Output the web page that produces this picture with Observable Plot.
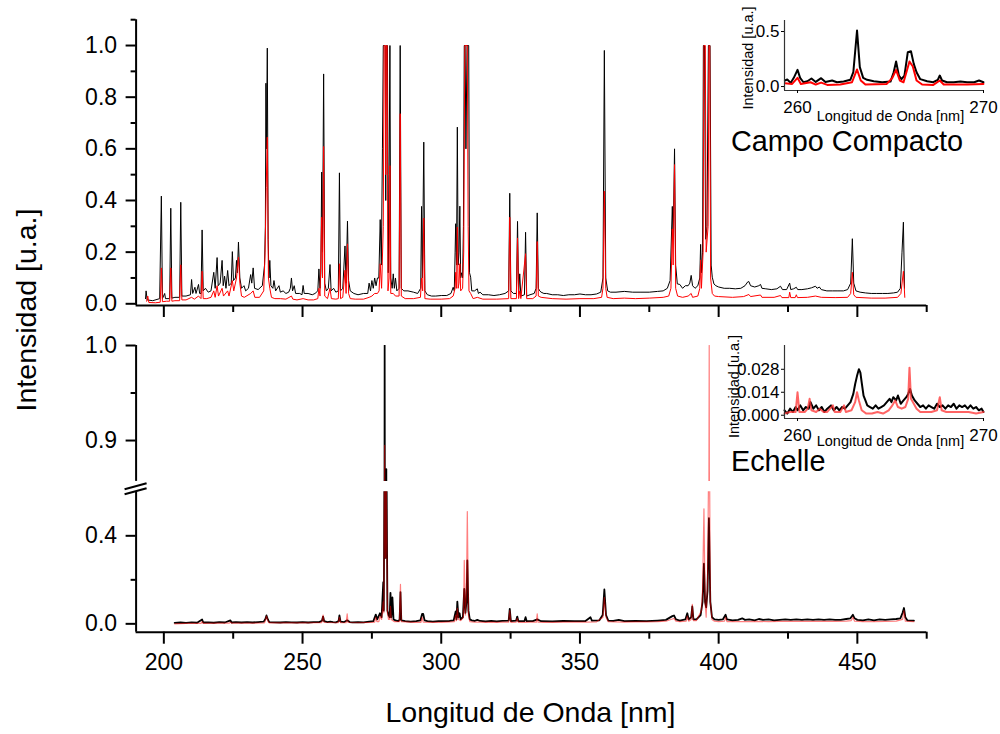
<!DOCTYPE html>
<html>
<head>
<meta charset="utf-8">
<script src="https://cdn.jsdelivr.net/npm/d3@7"></script>
<script src="https://cdn.jsdelivr.net/npm/@observablehq/plot@0.6"></script>
<style>
  html, body { margin: 0; padding: 0; background: white; }
  #root { position: relative; width: 1000px; height: 734px; background: white; overflow: hidden; font-family: "Liberation Sans", Arial, sans-serif; }
  #root svg { position: absolute; }
</style>
</head>
<body>
<div id="root"></div>
<script>
// ---------------- DATA (wavelength nm, normalized intensity) ----------------
// Campo Compacto, black spectrum
const ccBlack = [[193.4,0.02],[193.6,0.05],[194,0.015],[196,0.012],[198.5,0.02],[199.1,0.417],[199.5,0.02],[200.3,0.04],[200.6,0.02],[202.1,0.02],[202.5,0.37],[202.9,0.022],[204,0.025],[205.7,0.025],[206.1,0.393],[206.5,0.03],[208,0.03],[209.6,0.035],[210,0.094],[210.4,0.04],[211.2,0.064],[211.6,0.04],[212.5,0.075],[212.9,0.04],[213.4,0.04],[213.8,0.286],[214.2,0.05],[215,0.06],[216,0.045],[217,0.05],[218,0.122],[218.5,0.06],[219.2,0.179],[219.6,0.07],[220.3,0.08],[221,0.168],[221.4,0.07],[221.9,0.107],[222.4,0.06],[223,0.129],[223.5,0.07],[224.3,0.08],[224.7,0.202],[225.1,0.09],[225.8,0.1],[226.2,0.168],[226.5,0.12],[226.9,0.239],[227.4,0.1],[228,0.06],[228.9,0.07],[229.5,0.05],[230.5,0.06],[231.3,0.113],[231.7,0.08],[232.2,0.139],[232.7,0.06],[234,0.055],[235.5,0.07],[236.3,0.15],[236.6,0.3],[236.8,0.854],[237.0,0.6],[237.3,0.99],[237.6,0.25],[237.9,0.1],[238.2,0.168],[238.6,0.07],[239.3,0.06],[239.7,0.09],[240.3,0.05],[241.5,0.07],[242,0.045],[243,0.05],[244,0.04],[245,0.045],[245.6,0.06],[246,0.1],[246.4,0.05],[247,0.07],[247.5,0.04],[249,0.04],[249.8,0.035],[250.2,0.071],[250.6,0.04],[252,0.04],[253.5,0.035],[254.5,0.04],[255.5,0.05],[255.9,0.135],[256.3,0.06],[256.6,0.12],[256.9,0.51],[257.2,0.2],[257.6,0.89],[258,0.08],[258.6,0.05],[259.3,0.06],[259.9,0.152],[260.3,0.05],[261.2,0.06],[262,0.045],[262.9,0.05],[263.3,0.507],[263.7,0.05],[264.5,0.06],[265.3,0.224],[265.7,0.08],[266.2,0.32],[266.6,0.09],[267.2,0.05],[268.5,0.04],[270,0.035],[272,0.04],[273.5,0.04],[274,0.08],[274.5,0.05],[275,0.09],[275.5,0.06],[276,0.1],[276.5,0.07],[277,0.1],[277.5,0.1],[278,0.326],[278.4,0.15],[278.8,0.6],[279.1,1.0],[279.8,1.0],[280.0,0.4],[280.2,1.0],[280.6,1.0],[280.9,0.12],[281.2,0.5],[281.5,1.0],[281.8,0.1],[282.3,0.06],[282.7,0.116],[283.1,0.06],[283.5,0.1],[284,0.05],[284.8,0.06],[285.2,1.0],[285.6,0.06],[286.5,0.05],[288,0.05],[290,0.045],[291.5,0.04],[292.6,0.06],[292.9,0.377],[293.2,0.1],[293.7,0.626],[294.1,0.05],[295,0.035],[296.5,0.03],[298,0.03],[300,0.032],[302,0.032],[303.5,0.04],[304.3,0.064],[304.7,0.05],[305.0,0.2],[305.2,0.31],[305.5,0.15],[305.8,0.684],[306.1,0.15],[306.4,0.2],[306.7,0.378],[307.0,0.1],[307.3,0.12],[307.7,0.1],[308.0,0.3],[308.3,1.0],[308.6,1.0],[308.9,0.6],[309.3,1.0],[309.9,1.0],[310.2,0.12],[310.6,0.103],[311,0.05],[312,0.05],[313,0.058],[313.4,0.04],[314,0.045],[315,0.035],[317,0.035],[319,0.032],[321,0.035],[323,0.04],[324.3,0.05],[324.7,0.428],[325.1,0.05],[326,0.04],[327.1,0.04],[327.5,0.319],[327.9,0.04],[328.3,0.116],[328.7,0.03],[330,0.035],[330.4,0.277],[330.8,0.03],[332,0.035],[333.5,0.04],[334.2,0.06],[334.6,0.352],[335,0.06],[335.5,0.05],[336,0.045],[337,0.04],[338,0.04],[340,0.035],[342,0.035],[344,0.032],[346,0.035],[348,0.035],[350,0.038],[352,0.035],[354,0.035],[356,0.038],[357.5,0.045],[358.3,0.1],[358.8,0.981],[359.3,0.1],[360,0.05],[361,0.045],[363,0.045],[366,0.048],[369,0.045],[372,0.045],[375,0.045],[378,0.048],[380,0.05],[381.5,0.06],[382.5,0.09],[383.3,0.377],[383.6,0.25],[384.1,0.6],[384.5,0.15],[385.1,0.077],[386,0.075],[387,0.06],[388,0.07],[389,0.07],[389.6,0.08],[390.1,0.11],[390.6,0.07],[391.5,0.06],[392.5,0.07],[393.2,0.1],[393.5,0.23],[393.8,0.12],[394.2,0.2],[394.5,1.0],[394.9,1.0],[395.3,0.25],[395.8,0.3],[396.3,1.0],[396.9,1.0],[397.3,0.15],[397.7,0.103],[398.3,0.077],[399,0.07],[400,0.065],[402,0.06],[404,0.06],[406,0.058],[408,0.06],[409.5,0.07],[410.5,0.085],[410.9,0.086],[411.5,0.07],[413,0.065],[414.5,0.07],[415.1,0.075],[415.6,0.06],[417,0.058],[419,0.055],[421,0.058],[422.3,0.068],[423,0.055],[424.5,0.055],[425.6,0.08],[426,0.055],[427,0.058],[428,0.064],[428.5,0.055],[430,0.055],[432,0.058],[433.5,0.062],[434.9,0.068],[435.5,0.06],[436.3,0.065],[437,0.055],[439,0.05],[441,0.05],[443,0.05],[445,0.05],[446.5,0.055],[447.6,0.08],[448.2,0.252],[448.7,0.08],[449.5,0.05],[451,0.045],[453,0.042],[455,0.04],[457,0.04],[459,0.04],[461,0.04],[463,0.042],[464.5,0.045],[465.5,0.06],[466.1,0.2],[466.6,0.316],[467,0.06]];

// Campo Compacto, red spectrum
const ccRed = [[193.8,0.01],[194.2,0.03],[194.6,0.005],[197,0.004],[198.7,0.006],[199.1,0.139],[199.5,0.008],[201,0.01],[202.1,0.01],[202.5,0.139],[202.9,0.01],[204,0.012],[205.7,0.012],[206.1,0.151],[206.5,0.015],[208,0.015],[210,0.025],[211,0.018],[212.5,0.03],[213.4,0.02],[213.8,0.126],[214.2,0.02],[215.5,0.02],[217,0.025],[218,0.05],[218.5,0.025],[219.2,0.07],[219.7,0.03],[221,0.06],[221.5,0.03],[223,0.05],[223.5,0.03],[224.7,0.09],[225.2,0.05],[226.2,0.1],[226.9,0.181],[227.4,0.08],[228,0.03],[229,0.025],[231.3,0.04],[232.2,0.05],[232.8,0.025],[234.5,0.025],[236,0.05],[236.5,0.2],[236.9,0.45],[237.3,0.645],[237.7,0.1],[238.2,0.06],[238.8,0.025],[240,0.02],[242,0.02],[244,0.018],[246,0.03],[246.5,0.018],[248,0.015],[250.2,0.02],[252,0.015],[254,0.015],[255.5,0.02],[255.9,0.06],[256.3,0.03],[256.9,0.335],[257.2,0.1],[257.6,0.609],[258,0.03],[259,0.02],[259.9,0.06],[260.4,0.02],[262,0.018],[262.9,0.02],[263.3,0.155],[263.7,0.02],[264.5,0.025],[265.3,0.13],[265.7,0.04],[266.2,0.232],[266.6,0.04],[267.2,0.02],[269,0.018],[272,0.018],[274,0.025],[275,0.03],[276,0.04],[277,0.04],[277.6,0.05],[278,0.155],[278.5,0.06],[279.1,0.3],[279.4,1.0],[279.8,1.0],[280.0,0.5],[280.2,1.0],[280.5,1.0],[280.8,0.05],[281.2,0.1],[281.5,0.535],[281.8,0.04],[282.7,0.04],[283.5,0.03],[284.8,0.03],[285.2,0.736],[285.6,0.03],[287,0.02],[290,0.02],[292.5,0.025],[292.9,0.1],[293.3,0.05],[293.7,0.332],[294.1,0.02],[296,0.018],[300,0.018],[303,0.02],[304.3,0.03],[305.0,0.06],[305.2,0.122],[305.5,0.06],[305.8,0.297],[306.1,0.06],[306.4,0.08],[306.7,0.155],[307,0.05],[307.7,0.06],[308.1,0.2],[308.5,1.0],[309.4,1.0],[309.7,0.3],[310,0.05],[310.6,0.04],[311.5,0.02],[313,0.025],[315,0.018],[320,0.018],[324.3,0.02],[324.7,0.335],[325.1,0.02],[327.1,0.02],[327.5,0.255],[327.9,0.02],[328.3,0.05],[328.7,0.02],[330.4,0.194],[330.8,0.02],[333,0.02],[334.2,0.03],[334.6,0.241],[335,0.03],[336,0.025],[340,0.02],[345,0.018],[350,0.02],[355,0.02],[357.8,0.025],[358.3,0.06],[358.8,0.436],[359.3,0.06],[359.8,0.025],[362,0.02],[366,0.022],[370,0.02],[375,0.022],[380,0.025],[382,0.03],[382.8,0.06],[383.3,0.29],[383.6,0.15],[384.1,0.539],[384.5,0.06],[385.2,0.03],[387,0.025],[389,0.03],[390.1,0.04],[390.6,0.025],[392.5,0.03],[393.2,0.06],[393.5,0.17],[393.8,0.06],[394.4,0.2],[394.7,1.0],[395.2,1.0],[395.5,0.2],[396.2,0.3],[396.5,1.0],[396.8,1.0],[397.1,0.1],[397.7,0.04],[398.5,0.03],[400,0.028],[405,0.025],[409,0.028],[410.9,0.036],[411.5,0.028],[415.1,0.034],[415.6,0.025],[420,0.025],[422.3,0.032],[422.8,0.024],[425.3,0.024],[425.6,0.045],[426,0.024],[427.6,0.024],[428,0.035],[428.4,0.024],[432,0.025],[434.9,0.03],[437,0.025],[442,0.024],[446.5,0.025],[447.6,0.04],[448.2,0.122],[448.7,0.035],[449.5,0.025],[455,0.022],[460,0.022],[464.5,0.025],[465.7,0.04],[466.6,0.126],[467.1,0.025]];

// Echelle, black spectrum
const ecBlack = [[203.9,0.004],[206,0.006],[208,0.004],[210,0.007],[212,0.005],[213.8,0.02],[214.2,0.006],[216,0.007],[218,0.005],[220,0.008],[222,0.006],[224,0.016],[224.4,0.006],[226,0.008],[228,0.006],[230,0.008],[232,0.006],[234,0.008],[236,0.01],[236.6,0.022],[237,0.038],[237.5,0.02],[238,0.008],[240,0.007],[242,0.006],[244,0.008],[246,0.007],[248,0.006],[250,0.008],[252,0.006],[254,0.008],[256,0.008],[257,0.014],[257.4,0.033],[257.8,0.012],[259,0.008],[260,0.01],[261,0.008],[262,0.007],[263,0.012],[263.3,0.038],[263.7,0.01],[265,0.008],[266.1,0.016],[267,0.008],[268,0.007],[270,0.008],[272,0.007],[274,0.01],[275.5,0.012],[276.4,0.042],[276.9,0.02],[277.9,0.048],[278.5,0.03],[279.1,0.189],[279.3,0.06],[279.6,1.0],[279.9,0.3],[280.2,0.87],[280.6,0.06],[281,0.04],[281.4,0.03],[281.7,0.141],[282,0.03],[282.4,0.12],[282.8,0.02],[283.5,0.016],[284.5,0.012],[285.0,0.02],[285.3,0.144],[285.6,0.016],[287,0.012],[289,0.01],[291,0.012],[292.5,0.016],[293.1,0.045],[293.5,0.045],[294,0.016],[295,0.012],[297,0.01],[299,0.012],[301,0.012],[303,0.013],[304.5,0.016],[305.2,0.056],[305.5,0.02],[305.8,0.101],[306.2,0.03],[306.6,0.048],[307,0.02],[307.8,0.03],[308.3,0.159],[308.7,0.05],[309.1,0.1],[309.4,0.288],[309.8,0.06],[310.3,0.02],[311,0.016],[312,0.013],[313,0.018],[314,0.013],[316,0.011],[318,0.013],[320,0.011],[322,0.013],[324.3,0.015],[324.7,0.068],[325.1,0.012],[327,0.015],[327.4,0.033],[327.8,0.012],[330,0.013],[330.4,0.03],[330.8,0.012],[333,0.012],[334.6,0.02],[336,0.012],[340,0.011],[344,0.013],[348,0.012],[352,0.013],[353.8,0.03],[354.3,0.015],[357,0.016],[358.2,0.04],[358.8,0.156],[359.4,0.04],[360.2,0.015],[362,0.013],[364,0.018],[366,0.012],[370,0.013],[374,0.012],[378,0.015],[381,0.018],[383.3,0.035],[383.9,0.038],[384.6,0.02],[386,0.015],[388,0.02],[388.7,0.048],[389.2,0.02],[390.1,0.03],[390.5,0.079],[390.9,0.02],[392,0.02],[393.5,0.04],[394.2,0.1],[394.7,0.273],[395.1,0.1],[395.5,0.075],[396,0.15],[396.5,0.48],[397,0.1],[397.6,0.03],[398.5,0.02],[400,0.018],[401.5,0.02],[402.5,0.041],[403,0.02],[405,0.016],[407,0.018],[408.5,0.025],[409.5,0.018],[411,0.02],[413,0.016],[414.5,0.022],[416,0.018],[418,0.02],[420,0.016],[422,0.018],[424,0.02],[426,0.018],[428,0.02],[430,0.018],[432,0.02],[434,0.018],[436,0.02],[438,0.018],[440,0.02],[442,0.018],[444,0.018],[446,0.022],[447.5,0.025],[448.4,0.041],[449,0.025],[450,0.018],[452,0.016],[454,0.02],[456,0.016],[458,0.02],[460,0.018],[462,0.02],[464,0.022],[465.5,0.025],[466.3,0.05],[466.8,0.072],[467.3,0.03],[468,0.016],[470.4,0.015]];

// Echelle, red spectrum
const ecRed = [[203.9,0.0],[208,0.002],[213.4,0.002],[213.8,0.01],[214.2,0.002],[220,0.003],[223.6,0.003],[224,0.008],[224.4,0.003],[230,0.003],[236.2,0.004],[236.5,0.01],[237,0.035],[237.6,0.01],[238,0.004],[245,0.004],[250,0.004],[256.8,0.005],[257,0.01],[257.4,0.04],[257.8,0.006],[262,0.005],[262.9,0.005],[263.3,0.03],[263.7,0.005],[265.7,0.005],[266.1,0.045],[266.4,0.006],[270,0.005],[275,0.007],[276,0.008],[276.4,0.03],[276.8,0.01],[277.5,0.01],[277.9,0.035],[278.5,0.02],[279.1,0.1],[279.3,0.05],[279.6,0.895],[279.9,0.3],[280.2,0.65],[280.6,0.05],[281,0.02],[281.4,0.02],[281.7,0.08],[282,0.02],[283,0.01],[284.9,0.01],[285.3,0.179],[285.6,0.01],[290,0.007],[292.7,0.007],[293.1,0.03],[293.5,0.008],[296,0.007],[300,0.007],[304.8,0.01],[305.2,0.04],[305.5,0.015],[305.8,0.07],[306.2,0.02],[307,0.015],[308,0.03],[308.3,0.288],[308.7,0.04],[309.1,0.15],[309.4,0.51],[309.8,0.04],[310.3,0.01],[312,0.008],[314,0.008],[316,0.007],[318,0.008],[320,0.007],[322,0.008],[324.3,0.008],[324.7,0.06],[325.1,0.007],[327,0.008],[327.4,0.025],[327.8,0.007],[330,0.007],[332,0.008],[334.3,0.008],[334.6,0.045],[334.9,0.008],[337,0.007],[340,0.007],[344,0.008],[348,0.008],[352,0.008],[356,0.009],[358.3,0.03],[358.8,0.12],[359.4,0.03],[360.2,0.01],[363,0.009],[366,0.008],[370,0.009],[374,0.009],[378,0.01],[381,0.012],[383.3,0.022],[383.9,0.025],[384.6,0.012],[386,0.01],[388.3,0.012],[388.7,0.035],[389.2,0.012],[390.1,0.02],[390.5,0.088],[390.9,0.015],[392,0.015],[393.8,0.06],[394.2,0.15],[394.7,0.523],[395.1,0.1],[395.5,0.03],[396,0.2],[396.6,1.0],[397,0.1],[397.6,0.02],[398.5,0.012],[400,0.01],[402.1,0.012],[402.5,0.03],[403,0.01],[406,0.01],[410,0.01],[414,0.011],[418,0.01],[422,0.011],[426,0.011],[430,0.011],[434,0.011],[438,0.011],[442,0.011],[446,0.012],[447.8,0.015],[448.4,0.03],[449,0.012],[452,0.01],[456,0.01],[460,0.011],[464,0.012],[466.3,0.02],[466.8,0.06],[467.3,0.012],[470.4,0.01]];

// Inset (Campo Compacto) 259-270 nm
const insetCcBlack = [[259.32,0.055],[259.45,0.064],[259.63,0.033],[259.8,0.079],[260.0,0.152],[260.14,0.079],[260.32,0.039],[260.53,0.048],[260.75,0.073],[260.98,0.042],[261.27,0.076],[261.5,0.042],[261.86,0.055],[262.12,0.039],[262.48,0.045],[262.84,0.061],[263.0,0.13],[263.2,0.509],[263.35,0.176],[263.53,0.079],[263.74,0.061],[264.1,0.048],[264.55,0.039],[265.0,0.045],[265.17,0.13],[265.3,0.227],[265.45,0.1],[265.59,0.067],[265.75,0.1],[265.93,0.312],[266.1,0.321],[266.25,0.206],[266.4,0.13],[266.6,0.067],[266.97,0.048],[267.3,0.039],[267.54,0.061],[267.65,0.1],[267.77,0.055],[268.04,0.039],[268.4,0.039],[268.76,0.045],[269.12,0.039],[269.5,0.039],[269.76,0.055],[270.0,0.039]];
const insetCcRed = [[259.32,0.03],[259.71,0.024],[260.0,0.079],[260.18,0.024],[260.7,0.039],[260.98,0.018],[261.27,0.036],[261.6,0.015],[262.3,0.018],[262.93,0.039],[263.2,0.155],[263.4,0.055],[263.65,0.018],[264.8,0.024],[265.1,0.079],[265.3,0.152],[265.5,0.055],[265.7,0.039],[266.02,0.227],[266.2,0.182],[266.4,0.055],[266.7,0.018],[267.3,0.015],[267.65,0.055],[267.86,0.018],[269.12,0.018],[270.0,0.024]];

// Inset (Echelle) 259-270 nm
const insetEcBlack = [[259.3,0.003],[259.45,0.001],[259.6,0.004],[259.75,0.002],[259.9,0.005],[260.0,0.003],[260.15,0.006],[260.3,0.003],[260.45,0.005],[260.6,0.004],[260.7,0.008],[260.85,0.004],[261.0,0.006],[261.15,0.003],[261.3,0.005],[261.45,0.002],[261.6,0.004],[261.8,0.006],[261.95,0.003],[262.1,0.005],[262.25,0.003],[262.4,0.005],[262.55,0.004],[262.7,0.006],[262.85,0.008],[263.0,0.013],[263.1,0.019],[263.2,0.024],[263.3,0.028],[263.38,0.026],[263.45,0.02],[263.55,0.012],[263.65,0.009],[263.75,0.006],[263.9,0.005],[264.05,0.004],[264.2,0.006],[264.35,0.004],[264.5,0.005],[264.65,0.006],[264.8,0.008],[264.95,0.01],[265.05,0.008],[265.15,0.011],[265.3,0.009],[265.4,0.012],[265.55,0.007],[265.7,0.009],[265.85,0.011],[265.95,0.013],[266.05,0.016],[266.15,0.012],[266.3,0.009],[266.45,0.007],[266.6,0.005],[266.75,0.006],[266.9,0.004],[267.05,0.006],[267.2,0.005],[267.35,0.004],[267.5,0.007],[267.65,0.005],[267.8,0.006],[267.95,0.004],[268.1,0.006],[268.25,0.005],[268.4,0.007],[268.55,0.004],[268.7,0.006],[268.85,0.005],[269.0,0.006],[269.15,0.004],[269.3,0.006],[269.45,0.004],[269.6,0.005],[269.75,0.003],[269.9,0.004],[270.0,0.002]];
const insetEcRed = [[259.3,0.001],[259.6,0.002],[259.9,0.002],[260.0,0.014],[260.1,0.002],[260.4,0.002],[260.55,0.004],[260.65,0.01],[260.75,0.003],[261.0,0.002],[261.2,0.004],[261.4,0.002],[261.6,0.002],[261.9,0.006],[262.0,0.002],[262.3,0.002],[262.5,0.006],[262.6,0.002],[262.9,0.003],[263.1,0.008],[263.2,0.014],[263.3,0.009],[263.45,0.003],[263.7,0.001],[264.0,0.001],[264.3,0.002],[264.6,0.001],[264.9,0.003],[265.1,0.006],[265.25,0.009],[265.4,0.005],[265.6,0.004],[265.8,0.005],[265.95,0.01],[266.02,0.029],[266.1,0.01],[266.2,0.008],[266.4,0.004],[266.6,0.002],[266.9,0.002],[267.2,0.002],[267.5,0.003],[267.65,0.011],[267.75,0.003],[268.0,0.002],[268.4,0.002],[268.8,0.002],[269.2,0.002],[269.6,0.001],[270.0,0.002]];

// Tick values
const xMajor = [200, 250, 300, 350, 400, 450];
const xMinor = [225, 275, 325, 375, 425, 475];
const yTopMajor = [0, 0.2, 0.4, 0.6, 0.8, 1.0];
const yTopMinor = [0.1, 0.3, 0.5, 0.7, 0.9, 1.1];
const yUpMajor = [0.9, 1.0];
const yUpMinor = [0.95];
const yLowMajor = [0, 0.4];
const yLowMinor = [0.2];
const insetXTicks = [260, 270];
const insetCcYTicks = [0, 0.5];
const insetEcYTicks = [0, 0.014, 0.028];

// ---------------- RENDER ----------------
const root = document.getElementById("root");
const FONT = "'Liberation Sans', Arial, sans-serif";
const baseStyle = {background: "transparent", fontFamily: FONT, overflow: "visible"};
const X = d => d[0], Y = d => d[1];
const none = () => "";
function place(el, left, top) {
  el.style.position = "absolute";
  el.style.left = left + "px";
  el.style.top = top + "px";
  el.style.maxWidth = "none";
  root.appendChild(el);
}

const mainMargins = {width: 1000, marginLeft: 135.6, marginRight: 73.8};
const xMain = {domain: [190, 475]};

// Top panel (Campo Compacto)
place(Plot.plot({
  ...mainMargins, height: 330, marginTop: 19.2, marginBottom: 25,
  style: baseStyle,
  x: xMain, y: {domain: [-0.0066, 1.1]},
  marks: [
    Plot.line(ccBlack, {x: X, y: Y, stroke: "#000", strokeWidth: 1}),
    Plot.line(ccRed, {x: X, y: Y, stroke: "#ff0000", strokeWidth: 1}),
    Plot.ruleX([190], {strokeWidth: 2}),
    Plot.ruleY([-0.0066], {strokeWidth: 2}),
    Plot.axisY(yTopMajor, {anchor: "left", tickSize: 10, tickPadding: 9, fontSize: 23, tickFormat: d3.format(".1f"), strokeWidth: 2, label: null}),
    Plot.axisY(yTopMinor, {anchor: "left", tickSize: 5, tickFormat: none, strokeWidth: 2, label: null}),
    Plot.axisX(xMajor, {anchor: "bottom", tickSize: 12, tickFormat: none, strokeWidth: 2, label: null}),
    Plot.axisX(xMinor, {anchor: "bottom", tickSize: 7, tickFormat: none, strokeWidth: 2, label: null})
  ]
}), 0, 0);

// Bottom panel, upper segment (Echelle)
place(Plot.plot({
  ...mainMargins, height: 160, marginTop: 15, marginBottom: 9.1,
  style: baseStyle,
  x: {...xMain, axis: null}, y: {domain: [0.857, 1.0]},
  marks: [
    Plot.line(ecBlack, {x: X, y: Y, stroke: "#000", strokeWidth: 1.8, clip: true}),
    Plot.line(ecRed, {x: X, y: Y, stroke: "#ff0000", strokeOpacity: 0.5, strokeWidth: 1.2, clip: true}),
    Plot.ruleX([190], {strokeWidth: 2}),
    Plot.axisY(yUpMajor, {anchor: "left", tickSize: 10, tickPadding: 9, fontSize: 23, tickFormat: d3.format(".1f"), strokeWidth: 2, label: null}),
    Plot.axisY(yUpMinor, {anchor: "left", tickSize: 5, tickFormat: none, strokeWidth: 2, label: null})
  ]
}), 0, 330);

// Bottom panel, lower segment (Echelle)
place(Plot.plot({
  ...mainMargins, height: 254, marginTop: 11.3, marginBottom: 102.3,
  style: baseStyle,
  x: xMain, y: {domain: [-0.038, 0.6]},
  marks: [
    Plot.line(ecBlack, {x: X, y: Y, stroke: "#000", strokeWidth: 1.8, clip: true}),
    Plot.line(ecRed, {x: X, y: Y, stroke: "#ff0000", strokeOpacity: 0.5, strokeWidth: 1.2, clip: true}),
    Plot.ruleX([190], {strokeWidth: 2}),
    Plot.ruleY([-0.038], {strokeWidth: 2}),
    Plot.axisY(yLowMajor, {anchor: "left", tickSize: 10, tickPadding: 9, fontSize: 23, tickFormat: d3.format(".1f"), strokeWidth: 2, label: null}),
    Plot.axisY(yLowMinor, {anchor: "left", tickSize: 5, tickFormat: none, strokeWidth: 2, label: null}),
    Plot.axisX(xMajor, {anchor: "bottom", tickSize: 12, tickPadding: 9.3, fontSize: 23, tickFormat: d3.format("d"), strokeWidth: 2, label: null}),
    Plot.axisX(xMinor, {anchor: "bottom", tickSize: 7, tickFormat: none, strokeWidth: 2, label: null}),
    // axis break marks
    (index, scales, values, dims) => {
      const g = d3.create("svg:g");
      const L = dims.marginLeft, T = dims.marginTop;
      g.append("rect").attr("x", L - 3).attr("y", T - 9).attr("width", 6).attr("height", 8).attr("fill", "white");
      for (const dy of [0, 5]) {
        g.append("line").attr("x1", L - 11).attr("y1", T - 2 + dy).attr("x2", L + 11).attr("y2", T - 8 + dy)
          .attr("stroke", "black").attr("stroke-width", 2);
      }
      return g.node();
    }
  ]
}), 0, 480);

// Inset: Campo Compacto
const insetBase = {width: 300, height: 130, marginLeft: 84, marginRight: 17, style: baseStyle, x: {domain: [259.3, 270]}};
place(Plot.plot({
  ...insetBase, marginTop: 20, marginBottom: 40,
  y: {domain: [-0.036, 0.6]},
  marks: [
    Plot.line(insetCcBlack, {x: X, y: Y, stroke: "#000", strokeWidth: 2}),
    Plot.line(insetCcRed, {x: X, y: Y, stroke: "#ff0000", strokeWidth: 2}),
    Plot.ruleX([259.3], {strokeWidth: 1.2, stroke: "#333"}),
    Plot.ruleY([-0.036], {strokeWidth: 1.2, stroke: "#333"}),
    Plot.axisY(insetCcYTicks, {anchor: "left", tickSize: 3, tickPadding: 2, fontSize: 17, tickFormat: d3.format(".1f"), label: null}),
    Plot.axisX(insetXTicks, {anchor: "bottom", tickSize: 3, tickPadding: 7, fontSize: 17, tickFormat: d3.format("d"), label: null})
  ]
}), 700, 0);

// Inset: Echelle
place(Plot.plot({
  ...insetBase, marginTop: 15, marginBottom: 42,
  y: {domain: [-0.002, 0.0425]},
  marks: [
    Plot.line(insetEcBlack, {x: X, y: Y, stroke: "#000", strokeWidth: 2}),
    Plot.line(insetEcRed, {x: X, y: Y, stroke: "#ff3030", strokeOpacity: 0.75, strokeWidth: 2}),
    Plot.ruleX([259.3], {strokeWidth: 1.2, stroke: "#333"}),
    Plot.ruleY([-0.002], {strokeWidth: 1.2, stroke: "#333"}),
    Plot.axisY(insetEcYTicks, {anchor: "left", tickSize: 3, tickPadding: 2, fontSize: 17, tickFormat: d3.format(".3f"), label: null}),
    Plot.axisX(insetXTicks, {anchor: "bottom", tickSize: 3, tickPadding: 7, fontSize: 17, tickFormat: d3.format("d"), label: null})
  ]
}), 700, 330);

// Text labels
const overlay = d3.create("svg").attr("width", 1000).attr("height", 734)
  .style("left", "0px").style("top", "0px").style("pointer-events", "none")
  .style("font-family", FONT);
const txt = (s, x, y, size, anchor = "start", rot = 0) => {
  const t = overlay.append("text").text(s).attr("font-size", size).attr("text-anchor", anchor).attr("fill", "black");
  t.attr("transform", `translate(${x},${y})` + (rot ? ` rotate(${rot})` : ""));
};
txt("Intensidad [u.a.]", 36, 310, 28.5, "middle", -90);
txt("Longitud de Onda [nm]", 530.5, 721.7, 28.5, "middle");
txt("Campo Compacto", 731, 151, 28.8);
txt("Echelle", 731, 471, 28.8);
txt("Longitud de Onda [nm]", 816.7, 121, 14.5);
txt("Intensidad [u.a.]", 753, 58, 14.5, "middle", -90);
txt("Longitud de Onda [nm]", 816.7, 446, 14.5);
txt("Intensidad [u.a.]", 739, 386.5, 14.5, "middle", -90);
root.appendChild(overlay.node());
</script>
</body>
</html>
